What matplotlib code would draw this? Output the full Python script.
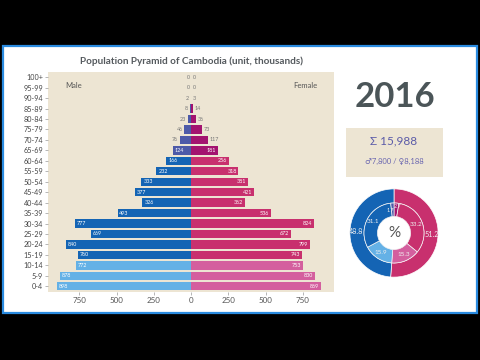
import matplotlib
matplotlib.use("Agg")
import matplotlib.pyplot as plt
from matplotlib.patches import Rectangle
import numpy as np

plt.rcParams['font.family'] = ['Lato', 'DejaVu Sans']

ages = ["0-4", "5-9", "10-14", "15-19", "20-24", "25-29", "30-34", "35-39", "40-44",
        "45-49", "50-54", "55-59", "60-64", "65-69", "70-74", "75-79", "80-84",
        "85-89", "90-94", "95-99", "100+"]
male = [898, 878, 772, 760, 840, 669, 777, 493, 326, 377, 333, 232, 166, 124, 76, 46, 23, 8, 2, 0, 0]
female = [869, 830, 753, 743, 799, 672, 824, 536, 362, 421, 381, 318, 256, 181, 117, 73, 36, 14, 3, 0, 0]
year = "2016"
xticks = [-750, -500, -250, 0, 250, 500, 750]

M_CHILD, M_ADULT, M_OLD = "#64b1e6", "#1464b4", "#4d5aa8"
F_CHILD, F_ADULT, F_OLD = "#d45f9e", "#c8306e", "#a3136f"

def group(i):
    return 0 if i < 3 else (1 if i < 13 else 2)

male_colors = [[M_CHILD, M_ADULT, M_OLD][group(i)] for i in range(len(ages))]
female_colors = [[F_CHILD, F_ADULT, F_OLD][group(i)] for i in range(len(ages))]

fig = plt.figure(figsize=(4.8, 3.6), dpi=100, facecolor="black")

# white panel with blue border
panel = Rectangle((0.006, 1 - 313 / 360), 0.988, (313 - 46) / 360, transform=fig.transFigure,
                  facecolor="white", edgecolor="#2a8be0", linewidth=1.6, zorder=-10)
fig.patches.append(panel)

ax = fig.add_axes([0.1, 1 - 292 / 360, 0.596, (292 - 72) / 360])
ax.set_zorder(2)
ax.set_facecolor("#ede5d3")
y = np.arange(len(ages))
ax.barh(y, [-v for v in male], height=0.8, color=male_colors, zorder=2)
ax.barh(y, female, height=0.8, color=female_colors, zorder=2)
ax.set_xlim(-960, 960)
ax.set_ylim(-0.55, 20.5)
ax.set_yticks(y)
ax.set_yticklabels(ages, fontsize=5.2, color="#444444")
ax.set_xticks(xticks)
ax.set_xticklabels([str(abs(t)) for t in xticks], fontsize=5.8, color="#555555")
ax.tick_params(axis="both", length=2, width=0.5, color="#999999", pad=1.5)
for s in ax.spines.values():
    s.set_visible(False)

for i in range(len(ages)):
    mv, fv = male[i], female[i]
    if mv >= 120:
        ax.text(-mv + 12, i, str(mv), ha="left", va="center", fontsize=3.9, color="white", zorder=3)
    else:
        ax.text(-mv - 10, i, str(mv), ha="right", va="center", fontsize=3.9, color="#777777", zorder=3)
    if fv >= 120:
        ax.text(fv - 12, i, str(fv), ha="right", va="center", fontsize=3.9, color="white", zorder=3)
    else:
        ax.text(fv + 10, i, str(fv), ha="left", va="center", fontsize=3.9, color="#777777", zorder=3)

ax.text(0.06, 0.94, "Male", transform=ax.transAxes, fontsize=5.5, color="#555555", ha="left", va="center")
ax.text(0.94, 0.94, "Female", transform=ax.transAxes, fontsize=5.5, color="#555555", ha="right", va="center")

fig.text(191 / 480, 1 - 61 / 360, "Population Pyramid of Cambodia (unit, thousands)",
         ha="center", va="center", fontsize=7.2, fontweight="bold", color="#555a5e")

# right panel
fig.text(395 / 480, 1 - 97 / 360, year, ha="center", va="center", fontsize=25,
         fontweight="bold", color="#4b5558")

box = Rectangle((346 / 480, 1 - 177 / 360), 97 / 480, 49 / 360, transform=fig.transFigure,
                facecolor="#ede5d3", edgecolor="none", zorder=-5)
fig.patches.append(box)
total = sum(male) + sum(female)
fig.text(394 / 480, 1 - 141 / 360, "Σ {:,}".format(total), ha="center", va="center",
         fontsize=8.5, color="#5b5ba8")
fig.text(394 / 480, 1 - 161 / 360, "♂{:,} / ♀{:,}".format(sum(male), sum(female)),
         ha="center", va="center", fontsize=5.5, color="#6a66b0")

# donut
pax = fig.add_axes([(394 - 45) / 480, 1 - (233 + 45) / 360, 90 / 480, 90 / 360])
pax.set_zorder(2)
pax.set_aspect("equal")
mc = sum(male[:3]); ma = sum(male[3:13]); mo = sum(male[13:])
fc = sum(female[:3]); fa = sum(female[3:13]); fo = sum(female[13:])
outer_vals = [sum(female), sum(male)]
inner_vals = [fo, fa, fc, mc, ma, mo]
pct = lambda v: "{:.1f}".format(100 * v / total)
R = 1.0
r_mid = 0.68
r_hole = 0.375
pax.pie(outer_vals, radius=R, startangle=90, counterclock=False,
        colors=[F_ADULT, M_ADULT], wedgeprops=dict(width=R - r_mid, edgecolor="white", linewidth=0.5))
pax.pie(inner_vals, radius=r_mid, startangle=90, counterclock=False,
        colors=[F_OLD, F_ADULT, F_CHILD, M_CHILD, M_ADULT, M_OLD],
        wedgeprops=dict(width=r_mid - r_hole, edgecolor="#f4f4f4", linewidth=0.5))

def place(vals, r, start=90):
    ang = start
    out = []
    for v in vals:
        span = 360 * v / sum(vals)
        mid = ang - span / 2
        out.append((r * np.cos(np.radians(mid)), r * np.sin(np.radians(mid)), mid))
        ang -= span
    return out

for (xx, yy, mid), v in zip(place(outer_vals, 0.86), outer_vals):
    pax.text(xx, yy, pct(v), ha="center", va="center", fontsize=5.2, color="#f0f0f0")
for (xx, yy, mid), v in zip(place(inner_vals, 0.54), inner_vals):
    share = v / total
    if share < 0.05:
        # small top slices: stack the labels near the top
        ha = "left" if np.cos(np.radians(mid)) > 0 else "right"
        dy = 0.06 if ha == "left" else -0.04
        pax.text(0.0, yy + dy, pct(v), ha=ha, va="center", fontsize=4.0, color="#f0f0f0")
    else:
        pax.text(xx, yy, pct(v), ha="center", va="center", fontsize=4.6, color="#f0f0f0")
pax.text(0, 0, "%", ha="center", va="center", fontsize=11, color="#555555")
pax.set_xlim(-1.02, 1.02)
pax.set_ylim(-1.02, 1.02)

fig.savefig("out.png", dpi=100, facecolor="black")
